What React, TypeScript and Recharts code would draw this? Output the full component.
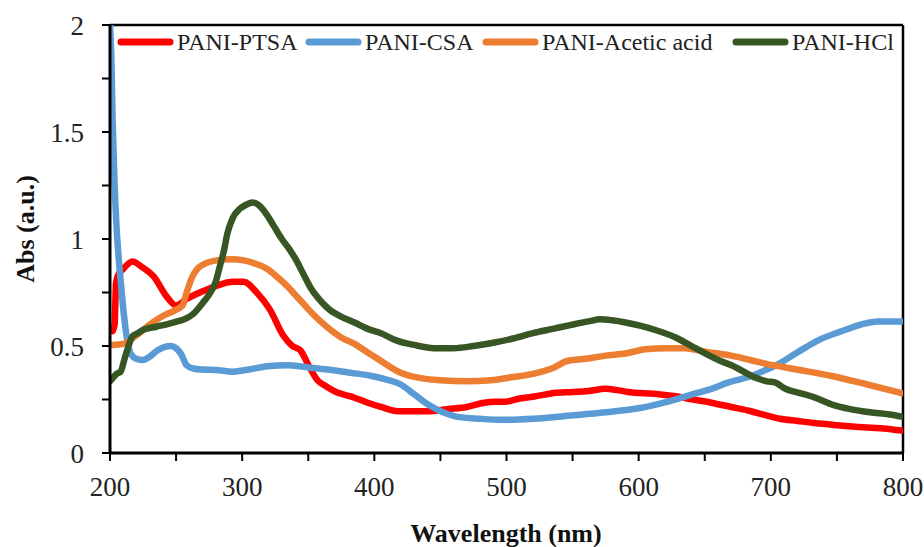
import React from 'react';
import { LineChart, Line, XAxis, YAxis, ReferenceLine, Legend } from 'recharts';

// ---------- Data ----------
const ptsaWavelength = [202, 203.5, 204.5, 206, 210, 217, 224, 233, 243, 250, 258, 268, 280, 293, 301, 311, 321, 331, 338, 344, 351, 357, 364, 373, 382, 395, 405, 418, 430, 441, 455, 470, 483, 491, 499, 510, 522, 536, 550, 562, 575, 583, 592, 601, 615, 628, 641, 655, 670, 685, 697, 707, 720, 733, 750, 770, 785, 799];
const ptsaAbs = [0.57, 0.6, 0.79, 0.83, 0.86, 0.895, 0.87, 0.825, 0.73, 0.69, 0.72, 0.75, 0.78, 0.8, 0.8, 0.75, 0.67, 0.55, 0.5, 0.48, 0.4, 0.34, 0.31, 0.28, 0.265, 0.235, 0.215, 0.195, 0.195, 0.195, 0.205, 0.215, 0.235, 0.24, 0.24, 0.255, 0.265, 0.28, 0.285, 0.29, 0.3, 0.295, 0.285, 0.28, 0.275, 0.265, 0.25, 0.235, 0.215, 0.195, 0.175, 0.16, 0.15, 0.14, 0.13, 0.12, 0.115, 0.105];

const csaWavelength = [200, 201, 202, 203.5, 205, 207, 209, 211, 213, 216, 220, 225, 230, 236, 241, 246, 250, 254, 258, 263, 270, 280, 293, 305, 319, 334, 350, 365, 382, 398, 408, 420, 431, 441, 452, 462, 480, 497, 520, 549, 575, 601, 622, 641, 655, 668, 683, 695, 707, 720, 737, 754, 768, 781, 799];
const csaAbs = [2.0, 1.85, 1.55, 1.25, 1.05, 0.88, 0.74, 0.62, 0.53, 0.46, 0.44, 0.435, 0.45, 0.48, 0.495, 0.5, 0.49, 0.46, 0.41, 0.395, 0.39, 0.388, 0.38, 0.39, 0.405, 0.41, 0.4, 0.39, 0.375, 0.36, 0.345, 0.32, 0.27, 0.225, 0.19, 0.17, 0.16, 0.155, 0.16, 0.175, 0.19, 0.21, 0.24, 0.275, 0.3, 0.33, 0.355, 0.385, 0.42, 0.47, 0.53, 0.57, 0.6, 0.615, 0.615];

const aceticWavelength = [202, 210, 220, 230, 240, 250, 255, 258, 262, 266, 272, 281, 292, 301, 310, 319, 327, 334, 340, 346, 355, 364, 375, 385, 395, 405, 420, 435, 450, 470, 488, 505, 520, 536, 546, 560, 575, 590, 605, 620, 635, 649, 670, 694, 720, 746, 773, 799];
const aceticAbs = [0.505, 0.51, 0.55, 0.6, 0.64, 0.67, 0.69, 0.75, 0.82, 0.86, 0.885, 0.9, 0.905, 0.9, 0.885, 0.86, 0.82, 0.78, 0.74, 0.7, 0.64, 0.59, 0.54, 0.51, 0.47, 0.43, 0.375, 0.35, 0.34, 0.335, 0.34, 0.355, 0.37, 0.4, 0.43, 0.44, 0.455, 0.465, 0.485, 0.49, 0.49, 0.475, 0.455, 0.42, 0.39, 0.36, 0.32, 0.28];

const hclWavelength = [200, 205, 208, 211, 214, 217, 221, 225, 235, 245, 251, 258, 263, 270, 276, 280, 283, 286, 289, 293, 298, 303, 308, 314, 319, 324, 330, 336, 341, 346, 352, 358, 366, 374, 385, 395, 405, 417, 430, 445, 460, 475, 490, 505, 520, 535, 550, 562, 571, 580, 590, 601, 615, 628, 640, 649, 662, 672, 681, 689, 697, 703, 711, 722, 733, 747, 760, 775, 790, 799];
const hclAbs = [0.335, 0.37, 0.38, 0.44, 0.5, 0.545, 0.56, 0.575, 0.59, 0.605, 0.615, 0.63, 0.65, 0.7, 0.75, 0.8, 0.87, 0.94, 1.03, 1.1, 1.14, 1.16, 1.17, 1.15, 1.11, 1.06, 1.0, 0.95, 0.9, 0.84, 0.77, 0.72, 0.67, 0.64, 0.61, 0.58, 0.56, 0.525, 0.505, 0.49, 0.49, 0.5, 0.515, 0.535, 0.56, 0.58, 0.6, 0.615, 0.625, 0.62, 0.61, 0.595, 0.57, 0.54, 0.5, 0.47, 0.43, 0.405, 0.375, 0.35, 0.335, 0.33, 0.3, 0.28, 0.26, 0.225, 0.205, 0.19, 0.18, 0.17];

const seriesNames = ['PANI-PTSA', 'PANI-CSA', 'PANI-Acetic acid', 'PANI-HCl'];
const seriesColors = ['#FF0000', '#5B9BD5', '#ED7D31', '#375623'];

const xTicks = [200, 250, 300, 350, 400, 450, 500, 550, 600, 650, 700, 750, 800];
const yTicks = [0, 0.25, 0.5, 0.75, 1, 1.25, 1.5, 1.75, 2];

const xTitle = 'Wavelength (nm)';
const yTitle = 'Abs (a.u.)';

// ---------- Build series ----------
const zip = (wl: number[], ab: number[]) => wl.map((w, i) => ({ wl: w, abs: ab[i] }));
const seriesData = [
  zip(ptsaWavelength, ptsaAbs),
  zip(csaWavelength, csaAbs),
  zip(aceticWavelength, aceticAbs),
  zip(hclWavelength, hclAbs),
];

const FONT = '"Liberation Serif", "Times New Roman", serif';
const legendOffsets = [0, 188, 365, 615];

const renderLegend = () => (
  <div style={{ position: 'relative', width: 790, height: 26, fontFamily: FONT, fontSize: 24, color: '#222', whiteSpace: 'nowrap' }}>
    {seriesNames.map((name, i) => (
      <div key={name} style={{ position: 'absolute', left: legendOffsets[i], top: 0, height: 26, display: 'flex', alignItems: 'center' }}>
        <svg width={57} height={10} style={{ display: 'block' }}>
          <line x1={4} y1={5} x2={53} y2={5} stroke={seriesColors[i]} strokeWidth={7} strokeLinecap="round" />
        </svg>
        <span style={{ marginLeft: 3, lineHeight: '26px' }}>{name}</span>
      </div>
    ))}
  </div>
);

export default function App() {
  return (
    <div style={{ position: 'absolute', left: 0, top: 0, width: 924, height: 547, background: '#fff' }}>
      <LineChart width={924} height={547} margin={{ top: 25, right: 21, bottom: 34, left: 30 }}>
        <XAxis
          dataKey="wl"
          type="number"
          domain={[200, 800]}
          ticks={xTicks}
          allowDataOverflow
          tickFormatter={(v: number) => (v % 100 === 0 ? String(v) : '')}
          height={60}
          tickSize={8}
          tickMargin={16}
          axisLine={{ stroke: '#000', strokeWidth: 3 }}
          tickLine={{ stroke: '#000', strokeWidth: 2 }}
          tick={{ fill: '#222', fontSize: 27, fontFamily: FONT }}
          label={(p: any) => (
            <text x={506} y={542} textAnchor="middle" fontFamily={FONT} fontSize={26} fontWeight="bold" fill="#111">
              {xTitle}
            </text>
          )}
        />
        <YAxis
          type="number"
          domain={[0, 2]}
          ticks={yTicks}
          allowDataOverflow
          tickFormatter={(v: number) => (Math.abs(v * 2 - Math.round(v * 2)) < 1e-9 ? String(v) : '')}
          width={80}
          tickSize={8}
          tickMargin={18}
          axisLine={{ stroke: '#000', strokeWidth: 3 }}
          tickLine={{ stroke: '#000', strokeWidth: 2 }}
          tick={{ fill: '#222', fontSize: 27, fontFamily: FONT }}
          label={(p: any) => (
            <text x={25} y={229} transform="rotate(-90, 25, 229)" textAnchor="middle" dominantBaseline="central" fontFamily={FONT} fontSize={26} fontWeight="bold" fill="#111">
              {yTitle}
            </text>
          )}
        />
        <ReferenceLine y={2} stroke="#000" strokeWidth={2.5} />
        <ReferenceLine x={800} stroke="#000" strokeWidth={2.5} />
        {seriesData.map((d, i) => (
          <Line
            key={seriesNames[i]}
            data={d}
            dataKey="abs"
            name={seriesNames[i]}
            type="monotone"
            stroke={seriesColors[i]}
            strokeWidth={6.5}
            dot={false}
            activeDot={false}
            isAnimationActive={false}
            strokeLinejoin="round"
            strokeLinecap="round"
          />
        ))}
        <Legend
          layout="horizontal"
          verticalAlign="middle"
          align="center"
          content={renderLegend}
          wrapperStyle={{ top: 29, left: 117, width: 790, height: 26 }}
        />
      </LineChart>
    </div>
  );
}
